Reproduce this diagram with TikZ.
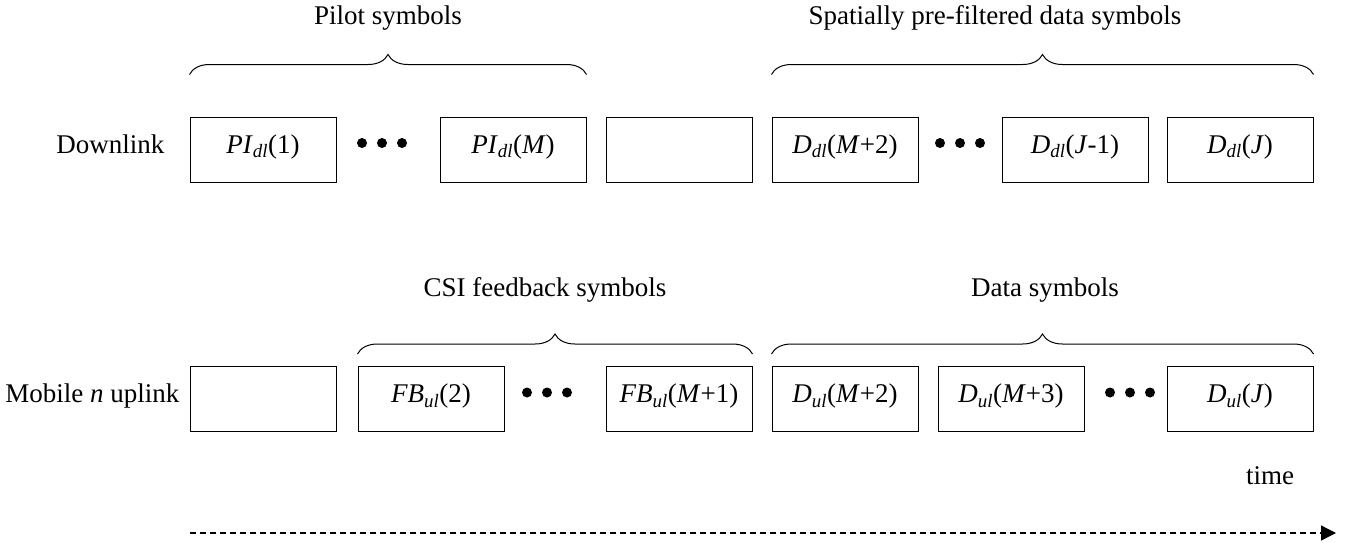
\documentclass[tikz,border=0pt]{standalone}
\usepackage{fontspec}
\setmainfont{Liberation Serif}
\usetikzlibrary{decorations.pathreplacing,arrows.meta}

\newcommand{\slotlbl}[3]{\textit{#1}\textsubscript{\textit{#2}}(#3)}

\begin{document}
\begin{tikzpicture}[x=1pt,y=-1pt,
	every node/.style={font=\fontsize{27}{32}\selectfont},
	slot/.style={draw,line width=1pt,minimum width=146pt,minimum height=65pt,inner sep=0pt,text height=19pt,text depth=12pt},
	curly/.style={decorate,decoration={brace,amplitude=20pt},line width=1pt}]
	
	\useasboundingbox (0,0) rectangle (1345,542);
	
	% downlink
	\node[anchor=base east] (dl) at (168,153) {Downlink};
	\node[slot] (pi1) at (263,149.5) {\slotlbl{PI}{dl}{1}};
	\node[slot] (pim) at (513,149.5) {\slotlbl{PI}{dl}{\textit{M}}};
	\node[slot] (gapdl) at (679,149.5) {};
	\node[slot] (ddl2) at (845,149.5) {\slotlbl{D}{dl}{\textit{M}+2}};
	\node[slot] (ddlj1) at (1075,149.5) {\slotlbl{D}{dl}{\textit{J}-1}};
	\node[slot] (ddlj) at (1240,149.5) {\slotlbl{D}{dl}{\textit{J}}};
	\foreach \x in {362,382,402,940,960,980}
		\fill (\x,143) circle (5pt);
	
	\draw[curly] ([yshift=42pt]pi1.north west) -- ([yshift=42pt]pim.north east);
	\draw[curly] ([yshift=42pt]ddl2.north west) -- ([yshift=42pt]ddlj.north east);
	\node (pilot) at (388,18) {Pilot symbols};
	\node (spat) at (995,18) {Spatially pre-filtered data symbols};
	
	% uplink
	\node[anchor=base east] (ul) at (183,402) {Mobile \textit{n} uplink};
	\node[slot] (gapul) at (263,399) {};
	\node[slot] (fb2) at (431,399) {\slotlbl{FB}{ul}{2}};
	\node[slot] (fbm) at (679,399) {\slotlbl{FB}{ul}{\textit{M}+1}};
	\node[slot] (dul2) at (845,399) {\slotlbl{D}{ul}{\textit{M}+2}};
	\node[slot] (dul3) at (1011,399) {\slotlbl{D}{ul}{\textit{M}+3}};
	\node[slot] (dulj) at (1240,399) {\slotlbl{D}{ul}{\textit{J}}};
	\foreach \x in {527,547,567,1110,1130,1150}
		\fill (\x,392.5) circle (5pt);
	
	\draw[curly] ([yshift=12pt]fb2.north west) -- ([yshift=12pt]fbm.north east);
	\draw[curly] ([yshift=12pt]dul2.north west) -- ([yshift=12pt]dulj.north east);
	\node (csi) at (545,290) {CSI feedback symbols};
	\node (data) at (1045,290) {Data symbols};
	
	% time axis
	\node (time) at (1270,476) {time};
	\coordinate (t0) at (190,533);
	\coordinate (t1) at (1336,533);
	\draw[line width=1.3pt,dash pattern=on 6pt off 4pt,-{Triangle[length=15pt,width=15pt]}] (t0) -- (t1);
	
\end{tikzpicture}
\end{document}
